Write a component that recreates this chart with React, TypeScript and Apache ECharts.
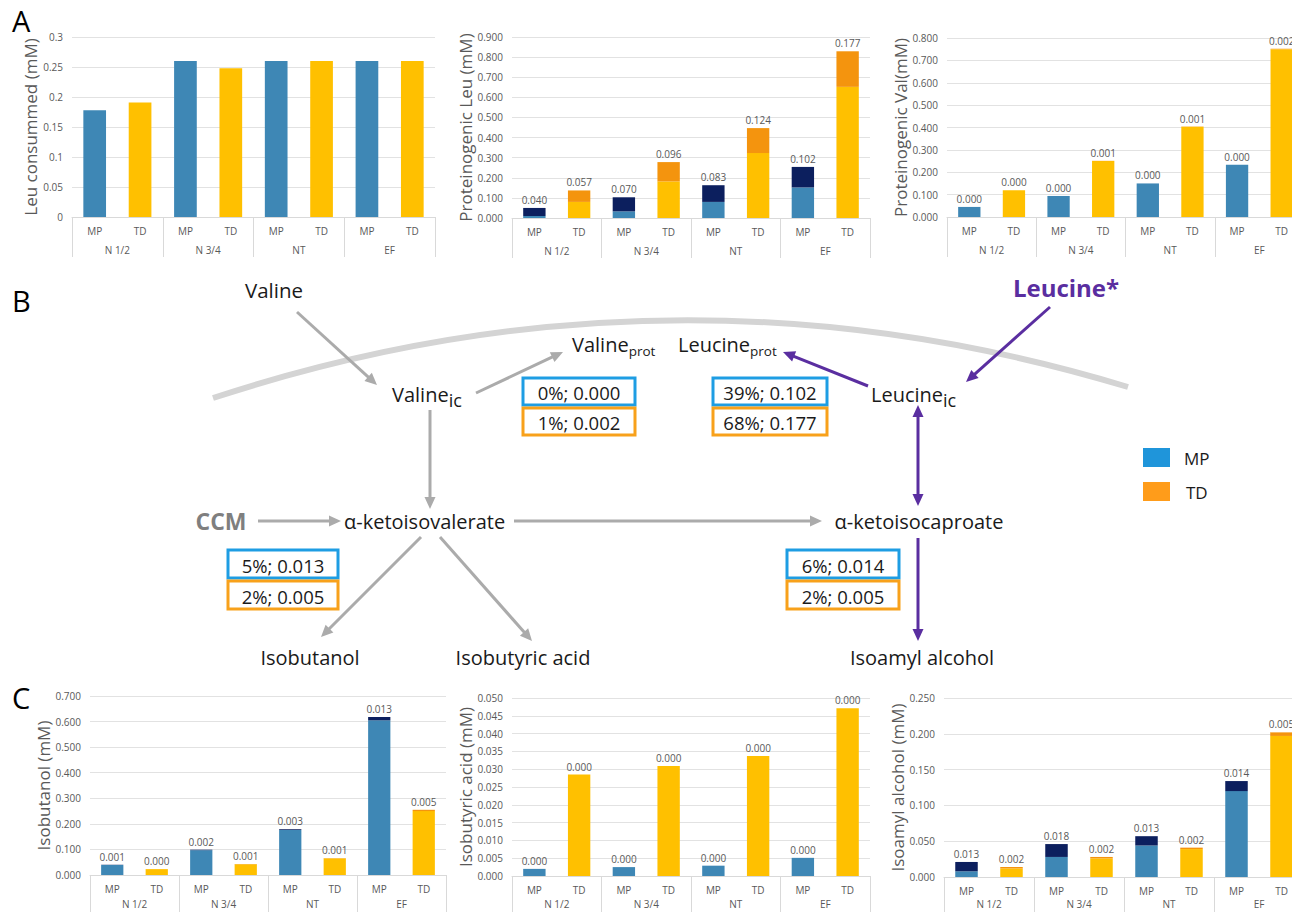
import React, { useEffect, useRef } from "react";
import * as echarts from "echarts";

// ---------- data ----------
const groups = ["N 1/2", "N 3/4", "NT", "EF"];
const strains = ["MP", "TD"];

const leuConsumedMP = [0.178, 0.26, 0.26, 0.26];
const leuConsumedTD = [0.191, 0.248, 0.26, 0.26];

const protLeuMPBase = [0.01, 0.033, 0.08, 0.152];
const protLeuMPTop = [0.04, 0.07, 0.083, 0.102];
const protLeuTDBase = [0.08, 0.182, 0.323, 0.652];
const protLeuTDTop = [0.057, 0.096, 0.124, 0.177];

const protValMPBase = [0.045, 0.094, 0.15, 0.234];
const protValMPTop = [0.0, 0.0, 0.0, 0.0];
const protValTDBase = [0.12, 0.25, 0.403, 0.75];
const protValTDTop = [0.0, 0.001, 0.001, 0.002];

const isobutanolMPBase = [0.039, 0.097, 0.176, 0.605];
const isobutanolMPTop = [0.001, 0.002, 0.003, 0.013];
const isobutanolTDBase = [0.023, 0.042, 0.065, 0.25];
const isobutanolTDTop = [0.0, 0.001, 0.001, 0.005];

const isobutyricMPBase = [0.002, 0.0025, 0.0029, 0.0051];
const isobutyricMPTop = [0.0, 0.0, 0.0, 0.0];
const isobutyricTDBase = [0.0285, 0.0309, 0.0337, 0.0471];
const isobutyricTDTop = [0.0, 0.0, 0.0, 0.0];

const isoamylMPBase = [0.008, 0.028, 0.044, 0.12];
const isoamylMPTop = [0.013, 0.018, 0.013, 0.014];
const isoamylTDBase = [0.012, 0.026, 0.039, 0.197];
const isoamylTDTop = [0.002, 0.002, 0.002, 0.005];

// flux boxes (MP / TD)
const boxValineProt = ["0%; 0.000", "1%; 0.002"];
const boxLeucineProt = ["39%; 0.102", "68%; 0.177"];
const boxValToAlcohols = ["5%; 0.013", "2%; 0.005"];
const boxIsoamyl = ["6%; 0.014", "2%; 0.005"];

// ---------- styles ----------
const BLUE = "#3E87B5";
const NAVY = "#0C1F5E";
const YELLOW = "#FFC000";
const ORANGE = "#F4940E";
const TXT = "#595959";
const GRID = "#e2e2e2";
const SEP = "#d9d9d9";
const BOX_BLUE = "#1E9DE3";
const BOX_ORANGE = "#F8A11B";
const GRAY_ARROW = "#ababab";
const PURPLE = "#5A2EA0";
const FONT = '"Open Sans", "DejaVu Sans", sans-serif';

const inter = (a: number[], b: number[]) => a.flatMap((v, i) => [v, b[i]]);

type ChartDef = {
  rect: [number, number, number, number];
  name: string;
  nameGap: number;
  groupMargin: number;
  max: number;
  interval: number;
  fmt: (v: number) => string;
  mpBase: number[];
  tdBase: number[];
  mpTop?: number[];
  tdTop?: number[];
};

const charts: ChartDef[] = [
  {
    rect: [72, 37, 363, 180], name: "Leu consummed (mM)", nameGap: 30, groupMargin: 28, max: 0.3, interval: 0.05,
    fmt: (v) => String(Math.round(v * 100) / 100), mpBase: leuConsumedMP, tdBase: leuConsumedTD,
  },
  {
    rect: [512, 37, 358, 181], name: "Proteinogenic Leu (mM)", nameGap: 35, groupMargin: 28, max: 0.9, interval: 0.1,
    fmt: (v) => v.toFixed(3), mpBase: protLeuMPBase, tdBase: protLeuTDBase, mpTop: protLeuMPTop, tdTop: protLeuTDTop,
  },
  {
    rect: [947, 38, 357, 179], name: "Proteinogenic Val(mM)", nameGap: 35, groupMargin: 28, max: 0.8, interval: 0.1,
    fmt: (v) => v.toFixed(3), mpBase: protValMPBase, tdBase: protValTDBase, mpTop: protValMPTop, tdTop: protValTDTop,
  },
  {
    rect: [90, 696, 356, 179], name: "Isobutanol (mM)", nameGap: 34, groupMargin: 24, max: 0.7, interval: 0.1,
    fmt: (v) => v.toFixed(3), mpBase: isobutanolMPBase, tdBase: isobutanolTDBase, mpTop: isobutanolMPTop, tdTop: isobutanolTDTop,
  },
  {
    rect: [512, 698, 358, 178], name: "Isobutyric acid (mM)", nameGap: 35, groupMargin: 23, max: 0.05, interval: 0.005,
    fmt: (v) => v.toFixed(3), mpBase: isobutyricMPBase, tdBase: isobutyricTDBase, mpTop: isobutyricMPTop, tdTop: isobutyricTDTop,
  },
  {
    rect: [944, 698, 360, 179], name: "Isoamyl alcohol (mM)", nameGap: 33, groupMargin: 22, max: 0.25, interval: 0.05,
    fmt: (v) => v.toFixed(3), mpBase: isoamylMPBase, tdBase: isoamylTDBase, mpTop: isoamylMPTop, tdTop: isoamylTDTop,
  },
];

// ---------- text measuring ----------
let ctx: CanvasRenderingContext2D | null = null;
function tw(text: string, size: number, weight = "normal") {
  if (!ctx) ctx = document.createElement("canvas").getContext("2d");
  if (!ctx) return text.length * size * 0.55;
  ctx.font = `${weight} ${size}px "Open Sans"`;
  return ctx.measureText(text).width;
}

function txt(text: string, x: number, y: number, size: number, opts: any = {}) {
  return {
    type: "text",
    x,
    y,
    silent: true,
    style: {
      text,
      fontSize: size,
      fontFamily: FONT,
      fontWeight: opts.weight || "normal",
      fill: opts.color || "#1a1a1a",
      align: opts.align || "left",
      verticalAlign: "middle",
    },
  };
}

function subText(main: string, sub: string, x: number, y: number, size: number, subSize: number, dy: number) {
  const w = tw(main, size);
  return [txt(main, x, y, size), txt(sub, x + w, y + dy, subSize)];
}

function arrow(x1: number, y1: number, x2: number, y2: number, color: string, both = false) {
  const dx = x2 - x1;
  const dy = y2 - y1;
  const len = Math.hypot(dx, dy);
  const ux = dx / len;
  const uy = dy / len;
  const hl = 12;
  const hw = 5.5;
  const head = (px: number, py: number, vx: number, vy: number) => ({
    type: "polygon",
    silent: true,
    shape: {
      points: [
        [px, py],
        [px - vx * hl - vy * hw, py - vy * hl + vx * hw],
        [px - vx * hl + vy * hw, py - vy * hl - vx * hw],
      ],
    },
    style: { fill: color },
  });
  const els: any[] = [
    {
      type: "line",
      silent: true,
      shape: {
        x1: both ? x1 + ux * hl : x1,
        y1: both ? y1 + uy * hl : y1,
        x2: x2 - ux * (hl - 1),
        y2: y2 - uy * (hl - 1),
      },
      style: { stroke: color, lineWidth: 3 },
    },
    head(x2, y2, ux, uy),
  ];
  if (both) els.push(head(x1, y1, -ux, -uy));
  return els;
}

function boxPair(x: number, y: number, w: number, h: number, labels: string[]) {
  const els: any[] = [];
  [BOX_BLUE, BOX_ORANGE].forEach((c, i) => {
    const yy = y + i * (h + 3);
    els.push({
      type: "rect",
      silent: true,
      shape: { x, y: yy, width: w, height: h },
      style: { fill: "#fff", stroke: c, lineWidth: 3 },
    });
    els.push(txt(labels[i], x + w / 2, yy + h / 2 + 1, 18.5, { align: "center" }));
  });
  return els;
}

function buildGraphic() {
  const g: any[] = [];
  // panel letters
  g.push(txt("A", 12, 20, 29, { color: "#000" }));
  g.push(txt("B", 12, 300, 29, { color: "#000" }));
  g.push(txt("C", 12, 697, 29, { color: "#000" }));

  // membrane
  g.push({
    type: "bezierCurve",
    silent: true,
    shape: { x1: 213, y1: 398, cpx1: 670, cpy1: 248, x2: 1128, y2: 387 },
    style: { stroke: "#d4d4d4", lineWidth: 6, fill: "none" },
  });

  // gray arrows
  g.push(...arrow(297, 312, 377, 385, GRAY_ARROW));
  g.push(...arrow(476, 393, 563, 352, GRAY_ARROW));
  g.push(...arrow(430, 410, 430, 509, GRAY_ARROW));
  g.push(...arrow(258, 521, 341, 521, GRAY_ARROW));
  g.push(...arrow(514, 521, 822, 521, GRAY_ARROW));
  g.push(...arrow(421, 537, 321, 637, GRAY_ARROW));
  g.push(...arrow(440, 537, 532, 641, GRAY_ARROW));

  // purple arrows
  g.push(...arrow(1050, 307, 966, 382, PURPLE));
  g.push(...arrow(868, 386, 783, 352, PURPLE));
  g.push(...arrow(918, 405, 918, 506, PURPLE, true));
  g.push(...arrow(918, 538, 918, 641, PURPLE));

  // metabolite names
  g.push(txt("Valine", 274, 290, 20.5, { align: "center" }));
  g.push(...subText("Valine", "ic", 392, 394, 20, 18, 6));
  g.push(...subText("Valine", "prot", 572, 344, 20, 13.5, 7));
  g.push(...subText("Leucine", "prot", 678, 344, 20, 13.5, 7));
  g.push(...subText("Leucine", "ic", 871, 394, 20, 18, 6));
  g.push(txt("Leucine*", 1066, 287, 24, { align: "center", weight: "bold", color: PURPLE }));
  g.push(txt("CCM", 221, 521, 23, { align: "center", weight: "bold", color: "#7f7f7f" }));
  g.push(txt("α-ketoisovalerate", 344, 521, 20));
  g.push(txt("α-ketoisocaproate", 919, 521, 20, { align: "center" }));
  g.push(txt("Isobutanol", 310, 657, 20, { align: "center" }));
  g.push(txt("Isobutyric acid", 523, 657, 20, { align: "center" }));
  g.push(txt("Isoamyl alcohol", 922, 657, 20, { align: "center" }));

  // flux boxes
  g.push(...boxPair(523, 378, 112, 27, boxValineProt));
  g.push(...boxPair(713, 378, 114, 27, boxLeucineProt));
  g.push(...boxPair(228, 550, 110, 28, boxValToAlcohols));
  g.push(...boxPair(787, 550, 112, 28, boxIsoamyl));

  // legend
  g.push({ type: "rect", silent: true, shape: { x: 1143, y: 448, width: 27, height: 19 }, style: { fill: "#1F95DA" } });
  g.push(txt(strains[0], 1184, 458, 17));
  g.push({ type: "rect", silent: true, shape: { x: 1143, y: 482, width: 27, height: 19 }, style: { fill: "#FF9C1A" } });
  g.push(txt(strains[1], 1186, 492, 17));
  return g;
}

function buildOption() {
  const grid: any[] = [];
  const xAxis: any[] = [];
  const yAxis: any[] = [];
  const series: any[] = [];
  const level1 = groups.flatMap(() => strains);

  charts.forEach((c, i) => {
    const [left, top, width, height] = c.rect;
    grid.push({ left, top, width, height, containLabel: false, outerBoundsMode: "none" });
    xAxis.push({
      type: "category",
      gridIndex: i,
      data: level1,
      axisLine: { lineStyle: { color: SEP, width: 1 } },
      axisTick: { show: false },
      axisLabel: { interval: 0, color: TXT, fontSize: 10, fontFamily: FONT, margin: 9 },
    });
    xAxis.push({
      type: "category",
      gridIndex: i,
      position: "bottom",
      data: groups,
      axisLine: { show: false },
      axisTick: { show: true, length: 40, lineStyle: { color: SEP, width: 1 } },
      axisLabel: { interval: 0, color: TXT, fontSize: 10, fontFamily: FONT, margin: c.groupMargin },
    });
    yAxis.push({
      type: "value",
      gridIndex: i,
      min: 0,
      max: c.max,
      interval: c.interval,
      name: c.name,
      nameLocation: "middle",
      nameGap: c.nameGap,
      nameTextStyle: { color: TXT, fontSize: 17, fontFamily: FONT },
      axisLine: { show: false },
      axisTick: { show: false },
      splitLine: { lineStyle: { color: GRID, width: 1 } },
      axisLabel: { color: TXT, fontSize: 10, fontFamily: FONT, margin: 9, formatter: c.fmt },
    });
    const base = inter(c.mpBase, c.tdBase).map((v, k) => ({
      value: v,
      itemStyle: { color: k % 2 ? YELLOW : BLUE },
    }));
    series.push({
      type: "bar",
      xAxisIndex: i * 2,
      yAxisIndex: i,
      stack: "s" + i,
      barWidth: "50%",
      data: base,
    });
    if (c.mpTop && c.tdTop) {
      const topData = inter(c.mpTop, c.tdTop).map((v, k) => ({
        value: v,
        itemStyle: { color: k % 2 ? ORANGE : NAVY },
      }));
      series.push({
        type: "bar",
        xAxisIndex: i * 2,
        yAxisIndex: i,
        stack: "s" + i,
        barWidth: "50%",
        data: topData,
        label: {
          show: true,
          position: "top",
          distance: 3,
          color: TXT,
          fontSize: 10,
          fontFamily: FONT,
          formatter: (p: any) => Number(p.value).toFixed(3),
        },
      });
    }
  });

  return {
    animation: false,
    backgroundColor: "#ffffff",
    grid,
    xAxis,
    yAxis,
    series,
    graphic: buildGraphic(),
  };
}

export default function App() {
  const ref = useRef<HTMLDivElement>(null);
  useEffect(() => {
    if (!ref.current) return;
    const chart = echarts.init(ref.current, undefined, { renderer: "svg" });
    chart.setOption(buildOption() as any);
    return () => chart.dispose();
  }, []);
  return (
    <div
      ref={ref}
      style={{ position: "fixed", left: 0, top: 0, width: 1292, height: 912, background: "#fff" }}
    />
  );
}
